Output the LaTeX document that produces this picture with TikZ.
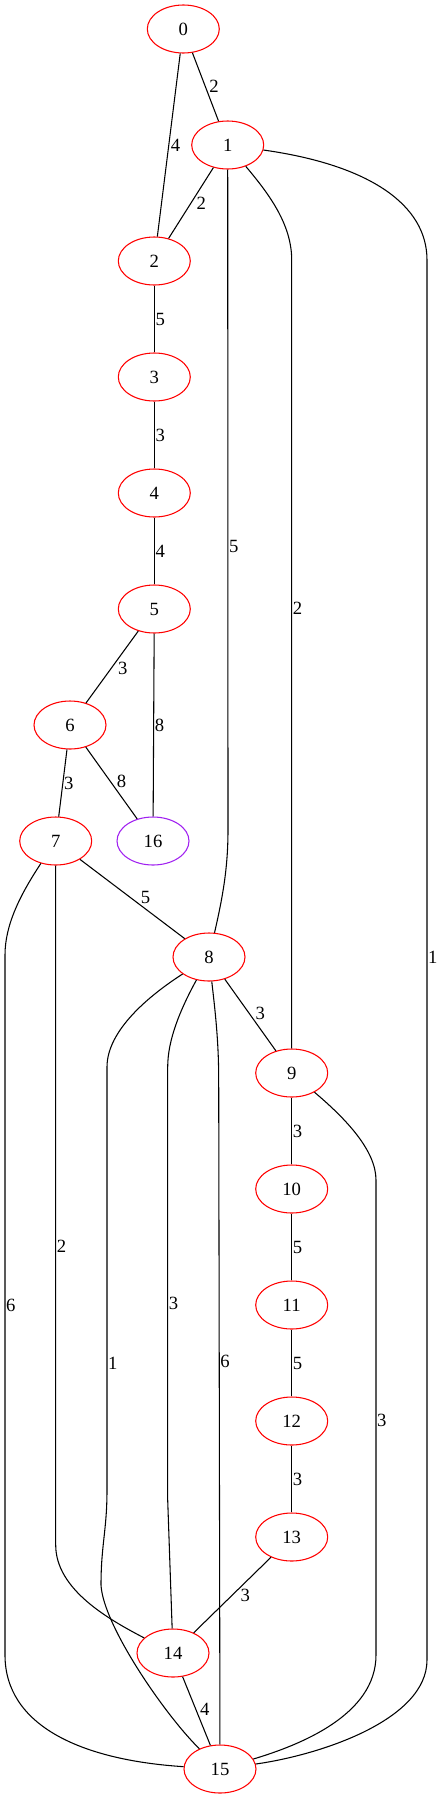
\documentclass[tikz,border=0pt]{standalone}
\usepackage{fontspec}
\setmainfont{Liberation Serif}
\usetikzlibrary{shapes.geometric}
\definecolor{gvpurple}{RGB}{160,32,240}

\begin{document}
\begin{tikzpicture}[x=0.75pt,y=-0.75pt,line width=0.8pt,
        vertex/.style={ellipse,draw=red,minimum width=54pt,minimum height=36pt,inner sep=0pt,font=\fontsize{14}{16}\selectfont},
        lbl/.style={inner sep=0.5pt,font=\fontsize{14}{16}\selectfont}]
            \useasboundingbox (0,0) rectangle (441,1799);
            \node[vertex] (n0) at (183.3,29) {0};
            \node[vertex] (n1) at (227.7,145) {1};
            \node[vertex] (n2) at (154.3,261) {2};
            \node[vertex] (n3) at (154.3,377) {3};
            \node[vertex] (n4) at (154.3,493) {4};
            \node[vertex] (n5) at (154.3,609) {5};
            \node[vertex] (n6) at (70,725) {6};
            \node[vertex] (n7) at (55.7,841) {7};
            \node[vertex,draw=gvpurple] (n16) at (153,841) {16};
            \node[vertex] (n8) at (209,957) {8};
            \node[vertex] (n9) at (291.7,1073) {9};
            \node[vertex] (n10) at (291.7,1189) {10};
            \node[vertex] (n11) at (291.7,1305) {11};
            \node[vertex] (n12) at (291.7,1421) {12};
            \node[vertex] (n13) at (291.7,1537) {13};
            \node[vertex] (n14) at (173,1653) {14};
            \node[vertex] (n15) at (220,1769) {15};
            % straight edges
            \draw (n0) -- node[lbl,pos=0.6,anchor=south west] {2} (n1);
            \draw (n0) -- node[lbl,pos=0.46,anchor=north west] {4} (n2);
            \draw (n1) -- node[lbl,pos=0.4,anchor=north west] {2} (n2);
            \draw (n2) -- node[lbl,midway,anchor=west] {5} (n3);
            \draw (n3) -- node[lbl,midway,anchor=west] {3} (n4);
            \draw (n4) -- node[lbl,midway,anchor=west] {4} (n5);
            \draw (n5) -- node[lbl,pos=0.41,anchor=north west] {3} (n6);
            \draw (n5) -- node[lbl,midway,anchor=west] {8} (n16);
            \draw (n6) -- node[lbl,midway,anchor=west] {3} (n7);
            \draw (n6) -- node[lbl,pos=0.58,anchor=south west] {8} (n16);
            \draw (n7) -- node[lbl,pos=0.57,anchor=south west] {5} (n8);
            \draw (n8) -- node[lbl,pos=0.58,anchor=south west] {3} (n9);
            \draw (n9) -- node[lbl,midway,anchor=west] {3} (n10);
            \draw (n10) -- node[lbl,midway,anchor=west] {5} (n11);
            \draw (n11) -- node[lbl,midway,anchor=west] {5} (n12);
            \draw (n12) -- node[lbl,midway,anchor=west] {3} (n13);
            \draw (n13) -- node[lbl,pos=0.41,anchor=north west] {3} (n14);
            \draw (n14) -- node[lbl,pos=0.585,anchor=south west] {4} (n15);
            % long edges
            \draw (n1) -- node[lbl,pos=0.57,anchor=west] {5} (228,830) .. controls (228,870) and (222,900) .. (n8);
            \draw (n1) .. controls (270,195) and (291.7,225) .. (291.7,260) -- node[lbl,pos=0.442,anchor=west] {2} (n9);
            \draw (n1) .. controls (370,165) and (427,205) .. (427,260) -- node[lbl,pos=0.498,anchor=west] {1} (427,1660) .. controls (427,1720) and (320,1755) .. (n15);
            \draw (n7) .. controls (20,895) and (5,925) .. (5,955) -- node[lbl,pos=0.5,anchor=west] {6} (5,1655) .. controls (5,1725) and (80,1760) .. (n15);
            \draw (n7) -- node[lbl,pos=0.56,anchor=west] {2} (55.7,1545) .. controls (55.7,1590) and (110,1620) .. (n14);
            \draw (n8) .. controls (150,995) and (107,1030) .. (107,1067) -- node[lbl,pos=0.7,anchor=west] {1} (107,1490) .. controls (107,1530) and (101,1545) .. (101,1585) .. controls (103,1625) and (165,1715) .. (n15);
            \draw (n8) .. controls (180,1010) and (167.7,1040) .. (167.7,1067) -- node[lbl,pos=0.547,anchor=west] {3} (167.7,1500) -- (n14);
            \draw (n8) .. controls (215,1010) and (218.7,1040) .. (218.7,1080) -- node[lbl,pos=0.424,anchor=west] {6} (n15);
            \draw (n9) .. controls (345,1118) and (376,1150) .. (376,1180) -- node[lbl,pos=0.507,anchor=west] {3} (376,1655) .. controls (376,1715) and (300,1745) .. (n15);
        \end{tikzpicture}
\end{document}
